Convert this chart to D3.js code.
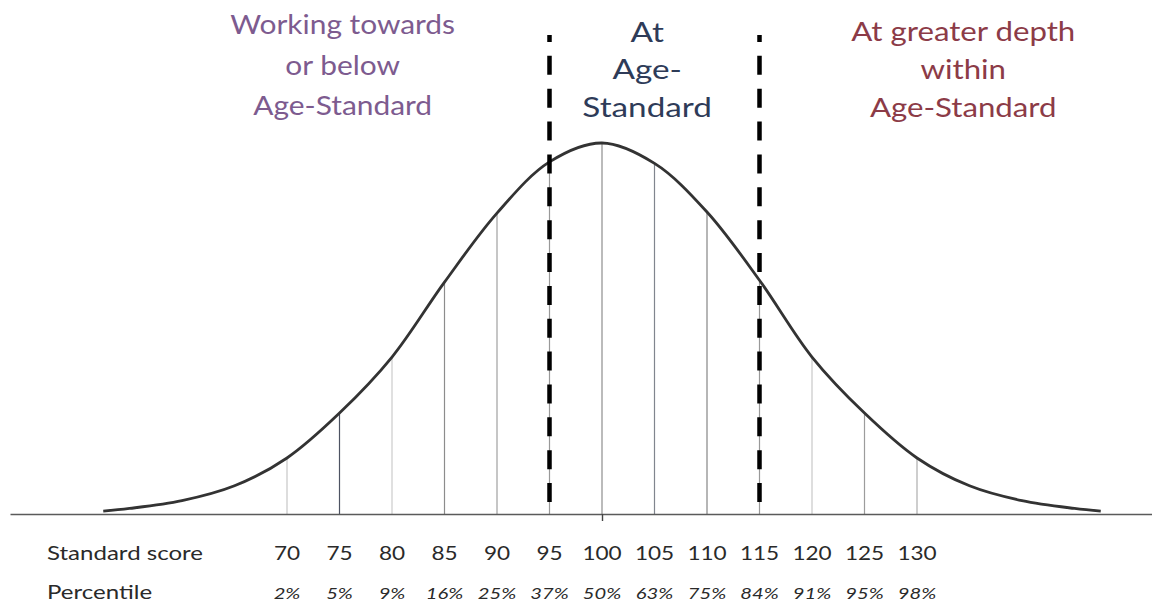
<!DOCTYPE html>
<html>
<head>
<meta charset="utf-8">
<script src="https://cdn.jsdelivr.net/npm/d3@7"></script>
<style>
  html, body { margin: 0; padding: 0; background: #fff; }
  svg { display: block; }
  text { font-family: Lato, "Open Sans", sans-serif; }
</style>
</head>
<body>
<div id="chart"></div>
<script>
// standard scores marked on the axis, with their percentiles
const scores = [70, 75, 80, 85, 90, 95, 100, 105, 110, 115, 120, 125, 130];
const percentiles = ["2%", "5%", "9%", "16%", "25%", "37%", "50%", "63%", "75%", "84%", "91%", "95%", "98%"];

// bell curve: height as % of the peak
const curveScores = [52.5, 55, 60, 65, 70, 75, 80, 85, 90, 95, 100, 105, 110, 115, 120, 125, 130, 135, 140, 145, 147.5];
const curveHeights = [0.8, 1.5, 3.6, 7.6, 15.1, 27.2, 42.3, 62.5, 81.1, 94.9, 100, 94.5, 81.4, 63, 42.3, 27.2, 15.1, 7.6, 3.6, 1.5, 0.8];

// band boundaries (dashed) and band headings
const cutoffs = [95, 115];
const bandNames = [
  ["Working towards", "or below", "Age-Standard"],
  ["At", "Age-", "Standard"],
  ["At greater depth", "within", "Age-Standard"]
];
const rowLabels = ["Standard score", "Percentile"];

const W = 1152, H = 604;
const BASE = 514;
const SX = 1.22; // the source picture is stretched sideways

const svg = d3.select('#chart').append('svg')
  .attr('width', W)
  .attr('height', H);

const x = d3.scaleLinear().domain([70, 130]).range([287, 917]);
const y = d3.scaleLinear().domain([0, 100]).range([BASE, 143]);

const curvePts = curveScores.map((s, i) => ({ s, h: curveHeights[i] }));
const heightAt = s => curveHeights[curveScores.indexOf(s)];

// thin verticals under the curve
const lineShade = {
  70: '#c6c6c6', 75: '#4d5362', 80: '#cbcbcb', 85: '#8c8c8c', 90: '#a0a0a0',
  95: '#999', 100: '#8e8e8e', 105: '#80858e', 110: '#858585', 115: '#999',
  120: '#c8c8c8', 125: '#9c9c9c', 130: '#adadad'
};
svg.append('g').selectAll('line')
  .data(scores)
  .join('line')
  .attr('x1', d => x(d)).attr('x2', d => x(d))
  .attr('y1', BASE).attr('y2', d => y(heightAt(d)))
  .attr('stroke', d => lineShade[d])
  .attr('stroke-width', 1.2);

// axis: long baseline with a single tick at 100
const axisScale = x.copy().domain([x.invert(10), x.invert(W)]).range([10, W]);
const axisG = svg.append('g')
  .attr('transform', `translate(0,${BASE})`)
  .call(d3.axisBottom(axisScale).tickValues([100]).tickFormat('').tickSize(7).tickSizeOuter(0));
axisG.select('.domain').attr('stroke', '#5a5a5a').attr('stroke-width', 1.6);
axisG.selectAll('.tick line').attr('stroke', '#444').attr('stroke-width', 1.4);

// the bell curve
const line = d3.line()
  .x(d => x(d.s))
  .y(d => y(d.h))
  .curve(d3.curveCatmullRom.alpha(0.5));

svg.append('path')
  .datum(curvePts)
  .attr('d', line)
  .attr('fill', 'none')
  .attr('stroke', '#333')
  .attr('stroke-width', 2.8);

// dashed band boundaries
svg.append('g').selectAll('line')
  .data(cutoffs)
  .join('line')
  .attr('x1', d => x(d)).attr('x2', d => x(d))
  .attr('y1', 35).attr('y2', BASE)
  .attr('stroke', '#000')
  .attr('stroke-width', 4.5)
  .attr('stroke-dasharray', '19 13.86')
  .attr('stroke-dashoffset', 12);

function stretched(g, tx, ty, str, sx = SX) {
  return g.append('text')
    .attr('transform', `translate(${tx},${ty}) scale(${sx},1)`)
    .text(str);
}

// band headings
const bandX = [x(75.3), x(104.3), x(134.4)];
const bandY = [[34, 75, 115], [42, 79, 117], [41, 79, 117]];
const bandColor = ['#7d5b8f', '#2e3b58', '#8c3b47'];
const bandSX = [1.15, 1.28, 1.2];
bandNames.forEach((lines, b) => {
  const g = svg.append('g')
    .attr('fill', bandColor[b])
    .attr('font-size', 26)
    .attr('text-anchor', 'middle');
  lines.forEach((str, i) => stretched(g, bandX[b], bandY[b][i], str, bandSX[b]));
});

// bottom rows
const rows = svg.append('g').attr('fill', '#2a2a2a');
stretched(rows, 47, 560, rowLabels[0], 1.3).attr('font-size', 18.5);
stretched(rows, 47, 599, rowLabels[1], 1.3).attr('font-size', 18.5);

const nums = rows.append('g').attr('font-size', 18.5).attr('text-anchor', 'middle');
scores.forEach(s => stretched(nums, x(s), 560, s));

const pcts = rows.append('g').attr('font-size', 15.5).attr('font-style', 'italic').attr('text-anchor', 'middle');
percentiles.forEach((p, i) => stretched(pcts, x(scores[i]), 599, p, 1.3));
</script>
</body>
</html>
